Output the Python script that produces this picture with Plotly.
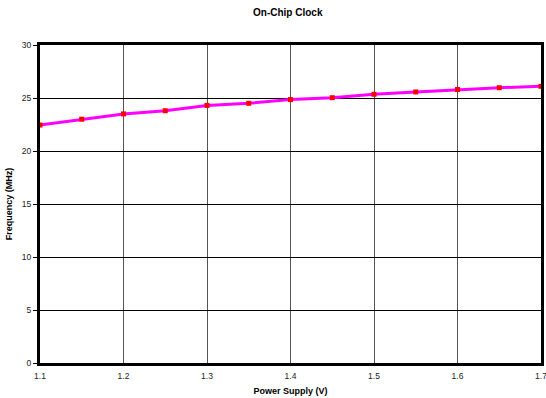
import plotly.graph_objects as go

voltage = [1.10, 1.15, 1.20, 1.25, 1.30, 1.35, 1.40, 1.45, 1.50, 1.55, 1.60, 1.65, 1.70]
frequency = [22.45, 23.0, 23.5, 23.8, 24.3, 24.5, 24.85, 25.03, 25.35, 25.57, 25.8, 25.97, 26.1]
x_ticks = [1.1, 1.2, 1.3, 1.4, 1.5, 1.6, 1.7]
x_tick_labels = ["1.1", "1.2", "1.3", "1.4", "1.5", "1.6", "1.7"]

fig = go.Figure()
fig.add_trace(go.Scatter(
    x=voltage, y=frequency, mode="lines+markers",
    line=dict(color="#FF00FF", width=3),
    marker=dict(symbol="square", size=5, color="#FF0000"),
    showlegend=False, cliponaxis=False,
))

font = "Liberation Sans, Arial, sans-serif"
fig.update_layout(
    width=546, height=398,
    margin=dict(l=40, r=5, t=45, b=35, autoexpand=False),
    paper_bgcolor="white", plot_bgcolor="white",
    title=dict(text="<b>On-Chip Clock</b>", x=0.527, xanchor="center", y=0.978, yanchor="top",
               font=dict(family=font, size=10, color="black")),
    font=dict(family=font, size=9, color="black"),
)
fig.update_xaxes(
    range=[1.1, 1.7], tickvals=x_ticks, ticktext=x_tick_labels,
    showgrid=True, gridcolor="#555555", gridwidth=1,
    showline=True, linecolor="black", linewidth=3, mirror=True,
    ticks="", zeroline=False, ticklabelstandoff=3, ticklabeloverflow="allow",
    automargin=False,
    title=dict(text="<b>Power Supply (V)</b>", font=dict(size=9), standoff=8),
    tickfont=dict(size=8.5, color="#222222"),
)
fig.update_yaxes(
    range=[0, 30], dtick=5,
    showgrid=True, gridcolor="black", gridwidth=1,
    showline=True, linecolor="black", linewidth=3, mirror=True,
    ticks="outside", ticklen=4, tickcolor="black", zeroline=False,
    automargin=False,
    title=dict(text="<b>Frequency (MHz)</b>", font=dict(size=9), standoff=8),
    tickfont=dict(size=8.5, color="#222222"),
)

fig.write_html("out.html", config={"displayModeBar": False},
               post_script="document.body.style.margin='0';document.body.style.overflow='hidden';")
